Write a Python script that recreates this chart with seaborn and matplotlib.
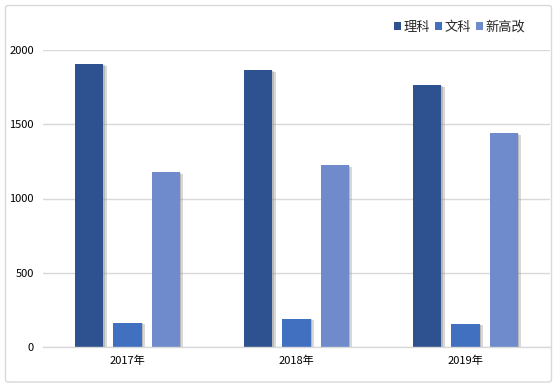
import matplotlib
matplotlib.use("Agg")
import matplotlib.pyplot as plt
import matplotlib.patheffects as pe
from matplotlib.patches import FancyBboxPatch, Patch
import seaborn as sns
import pandas as pd

years = ["2017年", "2018年", "2019年"]
series = ["理科", "文科", "新高改"]
like_vals = [1906, 1865, 1764]
wen_vals = [164, 191, 157]
xin_vals = [1178, 1226, 1441]
yticks = [0, 500, 1000, 1500, 2000]
colors = ["#2E528F", "#4070BF", "#6F8BCB"]

sns.set_theme(style="white")
plt.rcParams["font.family"] = ["Noto Sans CJK SC", "DejaVu Sans"]

df = pd.DataFrame({
    "year": years * 3,
    "series": [series[0]] * 3 + [series[1]] * 3 + [series[2]] * 3,
    "value": like_vals + wen_vals + xin_vals,
})

fig = plt.figure(figsize=(5.6, 3.89), dpi=100)
W, H = 560, 389
ax = fig.add_axes([43 / W, 1 - 347 / H, (550 - 43) / W, (347 - 50) / H])

sns.barplot(data=df, x="year", y="value", hue="series", hue_order=series,
            palette=colors, width=0.675, gap=0.263, ax=ax, legend=False,
            saturation=1, errorbar=None)

for p in ax.patches:
    p.set_path_effects([pe.SimplePatchShadow(offset=(2.5, -1.2), shadow_rgbFace="#909090", alpha=0.35),
                        pe.SimplePatchShadow(offset=(1.3, -0.6), shadow_rgbFace="#808080", alpha=0.35),
                        pe.Normal()])
    p.set_linewidth(0)

ax.set_xlim(-0.5, 2.5)
ax.set_ylim(0, 2000)
ax.set_yticks(yticks)
ax.set_yticklabels([str(v) for v in yticks])
ax.set_xlabel("")
ax.set_ylabel("")
ax.grid(axis="y", color="#D9D9D9", linewidth=1)
ax.set_axisbelow(True)
for s in ["top", "right", "left"]:
    ax.spines[s].set_visible(False)
ax.spines["bottom"].set_color("#D9D9D9")
ax.spines["bottom"].set_linewidth(1)
ax.tick_params(axis="both", length=0, labelsize=8, colors="black")
ax.tick_params(axis="y", pad=6.5)
ax.tick_params(axis="x", pad=6.5)

handles = [Patch(facecolor=c, edgecolor="none") for c in colors]
fig.legend(handles, series, loc="center right", bbox_to_anchor=(525 / W, 1 - 27 / H),
           ncol=3, frameon=False, fontsize=9.5, handlelength=0.5, handleheight=0.5,
           handletextpad=0.2, columnspacing=0.4, borderaxespad=0, borderpad=0)

border = FancyBboxPatch((5.5 / W, 1 - 382 / H), (551.5 - 5.5) / W, (382 - 5.5) / H,
                        boxstyle="round,pad=0,rounding_size=0.006",
                        transform=fig.transFigure, facecolor="none",
                        edgecolor="#D9D9D9", linewidth=1)
fig.patches.append(border)

fig.savefig("out.png", dpi=100, facecolor="white")
